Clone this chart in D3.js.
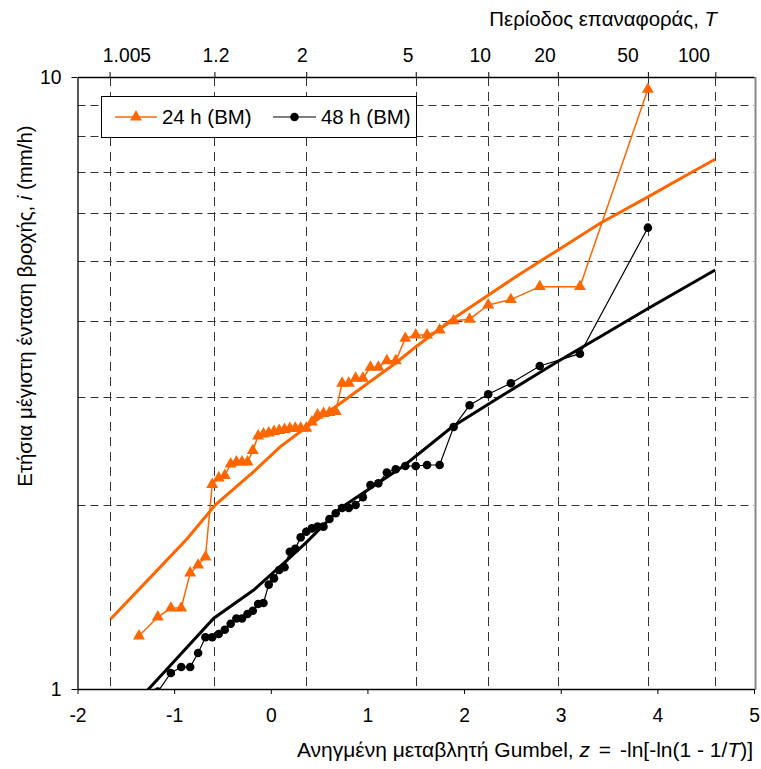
<!DOCTYPE html>
<html>
<head>
<meta charset="utf-8">
<script src="https://cdn.jsdelivr.net/npm/d3@7"></script>
<style>
  body { margin: 0; background: #fff; }
  svg text { font-family: "Liberation Sans", Arial, sans-serif; fill: #000; }
</style>
</head>
<body>
<div id="chart"></div>
<script>
// return periods on the top axis (labels sit a little off their ticks, as in the original)
const returnPeriods = [1.005, 1.2, 2, 5, 10, 20, 50, 100];
const returnLabels = ["1.005", "1.2", "2", "5", "10", "20", "50", "100"];
const returnLabelZ = [-1.488, -0.567, 0.328, 1.420, 2.168, 2.838, 3.696, 4.379];
const zTicks = [-2, -1, 0, 1, 2, 3, 4, 5];
const iTicks = [1, 10];
const iGrid = [2, 3, 4, 5, 6, 7, 8, 9];

// reduced variate of each ranked value
const zPoints = [-1.364, -1.169, -1.034, -0.927, -0.834, -0.752, -0.676, -0.606, -0.539, -0.476,
  -0.415, -0.356, -0.298, -0.241, -0.186, -0.131, -0.076, -0.021, 0.033, 0.087,
  0.142, 0.197, 0.253, 0.309, 0.367, 0.425, 0.484, 0.545, 0.607, 0.672,
  0.738, 0.807, 0.878, 0.953, 1.031, 1.113, 1.201, 1.293, 1.392, 1.500,
  1.617, 1.747, 1.892, 2.057, 2.250, 2.484, 2.783, 3.199, 3.902];

// 24 h annual maxima (mm/h)
const i24 = [1.221, 1.311, 1.356, 1.356, 1.547, 1.594, 1.643, 2.159, 2.212, 2.233,
  2.332, 2.349, 2.349, 2.349, 2.453, 2.591, 2.610, 2.620, 2.635, 2.645,
  2.655, 2.665, 2.667, 2.667, 2.667, 2.731, 2.804, 2.820, 2.829, 2.839,
  3.159, 3.159, 3.219, 3.219, 3.355, 3.355, 3.439, 3.439, 3.741, 3.788,
  3.788, 3.861, 3.997, 4.020, 4.242, 4.327, 4.544, 4.544, 9.548];

// 48 h annual maxima (mm/h)
const i48 = [0.975, 0.99, 1.062, 1.086, 1.086, 1.145, 1.215, 1.215, 1.230, 1.250,
  1.278, 1.304, 1.304, 1.326, 1.342, 1.377, 1.382, 1.481, 1.516, 1.565,
  1.581, 1.676, 1.695, 1.769, 1.807, 1.830, 1.842, 1.842, 1.896, 1.937,
  1.976, 1.976, 1.998, 2.057, 2.154, 2.168, 2.258, 2.286, 2.314, 2.314,
  2.323, 2.323, 2.680, 2.908, 3.031, 3.159, 3.371, 3.531, 5.673];

// fitted curves
const zFit24 = [-1.659, -1.211, -0.866, -0.573, -0.177, 0.099, 0.375, 0.720, 1.289, 1.495,
  1.875, 2.253, 2.547, 2.754, 2.961, 3.408, 3.908, 4.267, 4.598];
const iFit24 = [1.300, 1.542, 1.760, 2.000, 2.265, 2.489, 2.683, 2.930, 3.406, 3.617,
  4.016, 4.404, 4.730, 4.962, 5.203, 5.767, 6.375, 6.864, 7.337];
const zFit48 = [-1.669, -1.004, -0.590, -0.177, 0.169, 0.376, 0.720, 1.374, 1.875, 2.374,
  2.961, 3.408, 3.908, 4.598];
const iFit48 = [0.852, 1.108, 1.305, 1.451, 1.624, 1.741, 1.974, 2.314, 2.680, 3.004,
  3.422, 3.764, 4.189, 4.838];

const orange = "#ff6600";
const width = 761, height = 769;
const mLeft = 77.5, mRight = 754, mTop = 77, mBottom = 689;

const gumbelZ = T => -Math.log(-Math.log(1 - 1 / T));

const x = d3.scaleLinear().domain([-2, 5]).range([mLeft, mRight]);
const y = d3.scaleLog().domain([1, 10]).range([mBottom, mTop]);

const svg = d3.select("#chart").append("svg")
  .attr("width", width)
  .attr("height", height);

svg.append("defs").append("clipPath").attr("id", "plot")
  .append("rect")
  .attr("x", mLeft).attr("y", mTop)
  .attr("width", mRight - mLeft).attr("height", mBottom - mTop);

// gridlines
svg.append("g").selectAll("line").data(iGrid).join("line")
  .attr("x1", mLeft).attr("x2", mRight)
  .attr("y1", d => Math.round(y(d)) + 0.5).attr("y2", d => Math.round(y(d)) + 0.5)
  .attr("stroke", "#333").attr("stroke-dasharray", "8,5");

svg.append("g").selectAll("line").data(returnPeriods).join("line")
  .attr("x1", d => Math.round(x(gumbelZ(d))) + 0.5).attr("x2", d => Math.round(x(gumbelZ(d))) + 0.5)
  .attr("y1", mTop).attr("y2", mBottom)
  .attr("stroke", "#333").attr("stroke-dasharray", "9,6");

// plot frame
svg.append("line").attr("x1", mRight + 1.5).attr("x2", mRight + 1.5)
  .attr("y1", mTop).attr("y2", mBottom + 1)
  .attr("stroke", "#888").attr("stroke-width", 2);

// axes
const xAxis = svg.append("g")
  .attr("transform", `translate(0,${mBottom})`)
  .call(d3.axisBottom(x).tickValues(zTicks).tickFormat(d => String(d))
    .tickSize(5).tickSizeOuter(0).tickPadding(14));

const topAxis = svg.append("g")
  .attr("transform", `translate(0,${mTop})`)
  .call(d3.axisTop(x).tickValues(returnPeriods.map(gumbelZ))
    .tickFormat("").tickSize(5).tickSizeOuter(0));

const yAxis = svg.append("g")
  .attr("transform", `translate(${mLeft},0)`)
  .call(d3.axisLeft(y).tickValues(iTicks).tickFormat(d3.format("d"))
    .tickSize(6).tickSizeOuter(0).tickPadding(10));

[xAxis, topAxis, yAxis].forEach(g => {
  g.selectAll("text").style("font-size", "19.3px");
  g.select(".domain").attr("stroke", "#000").attr("stroke-width", 1.3);
  g.selectAll(".tick line").attr("stroke", "#000");
});

svg.append("g").selectAll("text").data(returnLabels).join("text")
  .attr("x", (d, k) => x(returnLabelZ[k]))
  .attr("y", 62)
  .attr("text-anchor", "middle")
  .style("font-size", "19.3px")
  .text(d => d);

// fitted curves
const plot = svg.append("g").attr("clip-path", "url(#plot)");
const line = d3.line().x(d => x(d[0])).y(d => y(d[1]));

plot.append("path")
  .datum(zFit24.map((z, k) => [z, iFit24[k]]))
  .attr("d", line).attr("fill", "none")
  .attr("stroke", orange).attr("stroke-width", 3);

plot.append("path")
  .datum(zFit48.map((z, k) => [z, iFit48[k]]))
  .attr("d", line).attr("fill", "none")
  .attr("stroke", "#000").attr("stroke-width", 3);

// observed series
const pts24 = zPoints.map((z, k) => [z, i24[k]]);
const pts48 = zPoints.map((z, k) => [z, i48[k]]);

plot.append("path").datum(pts24).attr("d", line).attr("fill", "none")
  .attr("stroke", orange).attr("stroke-width", 1.5);
plot.append("path").datum(pts48).attr("d", line).attr("fill", "none")
  .attr("stroke", "#000").attr("stroke-width", 1.2);

const tri = d3.symbol().type(d3.symbolTriangle).size(62);
plot.selectAll(".tri").data(pts24).join("path")
  .attr("class", "tri")
  .attr("d", tri)
  .attr("transform", d => `translate(${x(d[0])},${y(d[1])})`)
  .attr("fill", orange);

plot.selectAll(".dot").data(pts48).join("circle")
  .attr("class", "dot")
  .attr("cx", d => x(d[0])).attr("cy", d => y(d[1]))
  .attr("r", 4.3).attr("fill", "#000");

// legend
const lg = svg.append("g");
lg.append("rect").attr("x", 101.5).attr("y", 96.5).attr("width", 315).attr("height", 41)
  .attr("fill", "#fff").attr("stroke", "#000");
lg.append("line").attr("x1", 115).attr("x2", 157).attr("y1", 117).attr("y2", 117)
  .attr("stroke", orange).attr("stroke-width", 1.5);
lg.append("path").attr("d", tri).attr("transform", "translate(136,117)").attr("fill", orange);
lg.append("text").attr("x", 162).attr("y", 124).style("font-size", "20.4px").text("24 h (BM)");
lg.append("line").attr("x1", 273).attr("x2", 316).attr("y1", 117).attr("y2", 117)
  .attr("stroke", "#000").attr("stroke-width", 1.2);
lg.append("circle").attr("cx", 294.5).attr("cy", 117).attr("r", 4.3).attr("fill", "#000");
lg.append("text").attr("x", 321).attr("y", 124).style("font-size", "20.4px").text("48 h (BM)");

// axis titles
const tTop = svg.append("text").attr("x", 717).attr("y", 26)
  .attr("text-anchor", "end").style("font-size", "20.4px");
tTop.append("tspan").text("Περίοδος επαναφοράς, ");
tTop.append("tspan").style("font-style", "italic").text("T");

const tBottom = svg.append("text").attr("x", 753).attr("y", 757)
  .attr("text-anchor", "end").style("font-size", "21px");
tBottom.append("tspan").text("Ανηγμένη μεταβλητή Gumbel, ");
tBottom.append("tspan").style("font-style", "italic").text("z");
tBottom.append("tspan").attr("dx", 3).text(" =");
tBottom.append("tspan").attr("dx", 3).text(" -ln[-ln(1 - 1/");
tBottom.append("tspan").style("font-style", "italic").text("T");
tBottom.append("tspan").text(")]");

const tLeft = svg.append("text")
  .attr("transform", "translate(32,306) rotate(-90)")
  .attr("text-anchor", "middle").style("font-size", "20.4px");
tLeft.append("tspan").text("Ετήσια μέγιστη ένταση βροχής, ");
tLeft.append("tspan").style("font-style", "italic").text("i");
tLeft.append("tspan").text(" (mm/h)");
</script>
</body>
</html>
